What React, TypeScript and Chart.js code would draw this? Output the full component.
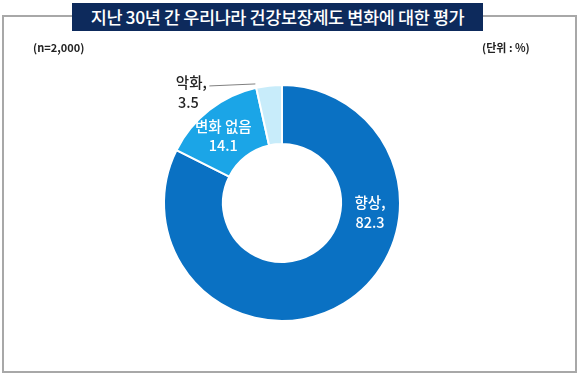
import React, { useEffect, useRef } from "react";
import { Chart, registerables } from "chart.js";

Chart.register(...registerables);

const categories = ["향상", "변화 없음", "악화"];
const values = [82.3, 14.1, 3.5];
const colors = ["#0a71c3", "#1ba5e7", "#c8ecfa"];
const titleText = "지난 30년 간 우리나라 건강보장제도 변화에 대한 평가";
const sampleText = "(n=2,000)";
const unitText = "(단위 : %)";

const FONT = "'Noto Sans CJK KR', 'Noto Sans', sans-serif";

const labelPlugin = {
  id: "sliceLabels",
  afterDatasetsDraw(chart: any) {
    const ctx = chart.ctx;
    const meta = chart.getDatasetMeta(0);
    ctx.save();
    ctx.textAlign = "center";
    ctx.textBaseline = "middle";
    meta.data.forEach((arc: any, i: number) => {
      const p = arc.getProps(["x", "y", "startAngle", "endAngle", "innerRadius", "outerRadius"], true);
      const midR = (p.innerRadius + p.outerRadius) / 2;
      const line1 = i === 0 || i === 2 ? categories[i] + "," : categories[i];
      const line2 = values[i].toFixed(1);
      ctx.font = "500 14.5px " + FONT;
      if (i === 0) {
        const a = (6 * Math.PI) / 180;
        const cx = p.x + midR * Math.cos(a);
        const cy = p.y + midR * Math.sin(a);
        ctx.fillStyle = "#ffffff";
        ctx.fillText(line1, cx, cy - 10);
        ctx.fillText(line2, cx, cy + 10);
      } else if (i === 1) {
        const a = (p.startAngle + p.endAngle) / 2 - (3 * Math.PI) / 180;
        const cx = p.x + (midR + 1) * Math.cos(a);
        const cy = p.y + (midR + 1) * Math.sin(a);
        ctx.fillStyle = "#ffffff";
        ctx.fillText(line1, cx, cy - 9);
        ctx.fillText(line2, cx, cy + 10);
      } else {
        const a = p.startAngle;
        const ex = p.x + (p.outerRadius + 4) * Math.cos(a);
        const ey = p.y + (p.outerRadius + 4) * Math.sin(a);
        const sx = ex - 46;
        const sy = ey + 2;
        ctx.strokeStyle = "#808080";
        ctx.lineWidth = 1;
        ctx.beginPath();
        ctx.moveTo(sx, sy);
        ctx.lineTo(ex, ey);
        ctx.stroke();
        ctx.fillStyle = "#222222";
        ctx.fillText(line1, sx - 18, sy - 3);
        ctx.fillText(line2, sx - 21, sy + 17);
      }
    });
    ctx.restore();
  },
};

export default function App() {
  const ref = useRef<HTMLCanvasElement>(null);
  useEffect(() => {
    if (!ref.current) return;
    const chart = new Chart(ref.current, {
      type: "doughnut",
      data: {
        labels: categories,
        datasets: [
          {
            data: values,
            backgroundColor: colors,
            borderColor: "#ffffff",
            borderWidth: 2,
          },
        ],
      },
      options: {
        responsive: false,
        animation: false,
        cutout: "50%",
        layout: { padding: { left: 163, right: 177, top: 84, bottom: 54 } },
        plugins: {
          legend: { display: false },
          tooltip: { enabled: false },
          title: { display: false },
        },
      },
      plugins: [labelPlugin],
    });
    return () => chart.destroy();
  }, []);

  return (
    <div
      style={{
        position: "fixed",
        left: 0,
        top: 0,
        width: 578,
        height: 376,
        background: "#ffffff",
        overflow: "hidden",
        fontFamily: FONT,
      }}
    >
      <div
        style={{
          position: "absolute",
          left: 2,
          top: 15,
          width: 571,
          height: 354,
          border: "2px solid #a8a8a8",
        }}
      />
      <canvas ref={ref} width={578} height={376} style={{ position: "absolute", left: 0, top: 0 }} />
      <div
        style={{
          position: "absolute",
          left: 72,
          top: 3,
          width: 411,
          height: 28,
          background: "#0d2a5c",
          color: "#ffffff",
          fontSize: 17.5,
          fontWeight: 500,
          lineHeight: "28px",
          textAlign: "center",
          whiteSpace: "nowrap",
          letterSpacing: -0.4,
        }}
      >
        {titleText}
      </div>
      <div
        style={{
          position: "absolute",
          left: 33,
          top: 39,
          fontSize: 11,
          fontWeight: 700,
          color: "#222",
          whiteSpace: "nowrap",
        }}
      >
        {sampleText}
      </div>
      <div
        style={{
          position: "absolute",
          left: 482,
          top: 39,
          fontSize: 11,
          fontWeight: 700,
          color: "#222",
          whiteSpace: "nowrap",
        }}
      >
        {unitText}
      </div>
    </div>
  );
}
